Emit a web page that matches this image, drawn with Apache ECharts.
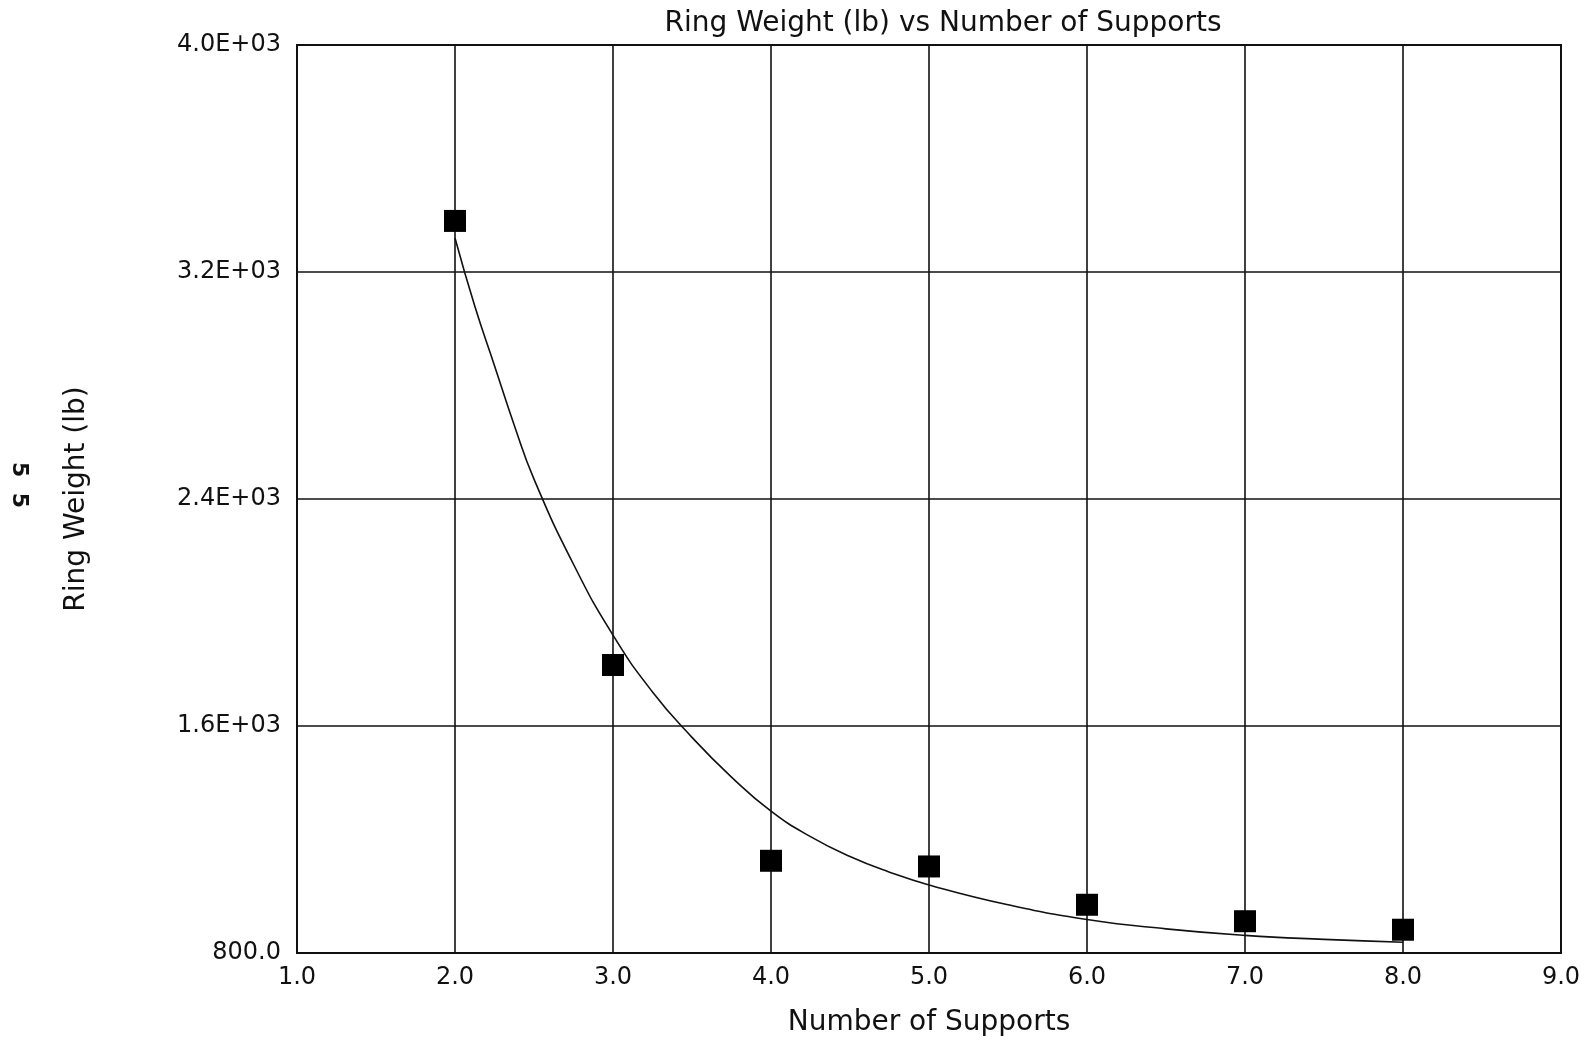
<!DOCTYPE html>
<html>
<head>
<meta charset="utf-8">
<script src="https://cdn.jsdelivr.net/npm/echarts@6/dist/echarts.min.js"></script>
<style>
  html, body { margin: 0; padding: 0; background: #fff; }
  #chart { width: 1586px; height: 1044px; }
</style>
</head>
<body>
<div id="chart"></div>
<script>
// measured points
const supports = [2, 3, 4, 5, 6, 7, 8];
const weights = [3380, 1815, 1125, 1105, 970, 912, 882];

// fitted curve
const curveX = [2.0, 2.125, 2.25, 2.375, 2.5, 2.75, 3.0, 3.25, 3.5, 3.75, 4.0, 4.25, 4.5, 4.75, 5.0, 5.5, 6.0, 6.5, 7.0, 7.5, 8.0];
const curveY = [3320, 3080, 2870, 2660, 2470, 2170, 1920, 1720, 1560, 1420, 1300, 1210, 1140, 1085, 1040, 970, 918, 885, 862, 848, 838];

const yTicks = [800, 1600, 2400, 3200, 4000];
const yTickLabels = ['800.0', '1.6E+03', '2.4E+03', '3.2E+03', '4.0E+03'];

const font = 'DejaVu Sans';
const ink = '#111';

let chart = echarts.init(document.getElementById('chart'));

const option = {
    backgroundColor: '#fff',
    animation: false,
    title: {
        text: 'Ring Weight (lb) vs Number of Supports',
        left: 938,
        textAlign: 'center',
        top: 5,
        textStyle: { fontFamily: font, fontSize: 28, fontWeight: 'normal', color: ink }
    },
    grid: {
        left: 297,
        right: 25,
        top: 45,
        bottom: 91,
        outerBoundsMode: 'none',
        show: true,
        borderColor: ink,
        borderWidth: 2
    },
    xAxis: {
        type: 'value',
        min: 1,
        max: 9,
        interval: 1,
        name: 'Number of Supports',
        nameLocation: 'middle',
        nameGap: 56,
        nameTextStyle: { fontFamily: font, fontSize: 28, color: ink },
        axisLine: { show: false },
        axisTick: { show: false },
        axisLabel: {
            margin: 13,
            fontFamily: font,
            fontSize: 24,
            color: ink,
            formatter: v => v.toFixed(1)
        },
        splitLine: { show: true, lineStyle: { color: ink, width: 1.6 } }
    },
    yAxis: {
        type: 'value',
        min: 800,
        max: 4000,
        interval: 800,
        name: 'Ring Weight (lb)',
        nameLocation: 'middle',
        nameGap: 206,
        nameRotate: 90,
        nameTextStyle: { fontFamily: font, fontSize: 28, color: ink },
        axisLine: { show: false },
        axisTick: { show: false },
        axisLabel: {
            margin: 16,
            fontFamily: font,
            fontSize: 24,
            color: ink,
            formatter: v => yTickLabels[yTicks.indexOf(v)]
        },
        splitLine: { show: true, lineStyle: { color: ink, width: 1.6 } }
    },
    graphic: [
        {
            type: 'text',
            left: 8,
            top: 462,
            rotation: -Math.PI / 2,
            style: { text: '5  5', fontFamily: font, fontSize: 22, fontWeight: 'bold', fill: ink }
        }
    ],
    series: [
        {
            name: 'Fit',
            type: 'line',
            data: curveX.map((x, i) => [x, curveY[i]]),
            smooth: 0.5,
            showSymbol: false,
            lineStyle: { color: ink, width: 1.6 },
            z: 3
        },
        {
            name: 'Ring Weight',
            type: 'scatter',
            data: supports.map((x, i) => [x, weights[i]]),
            symbol: 'rect',
            symbolSize: 22,
            itemStyle: { color: '#000', opacity: 1 },
            z: 4
        }
    ]
};

option && chart.setOption(option);
window.addEventListener('resize', chart.resize);
</script>
</body>
</html>
